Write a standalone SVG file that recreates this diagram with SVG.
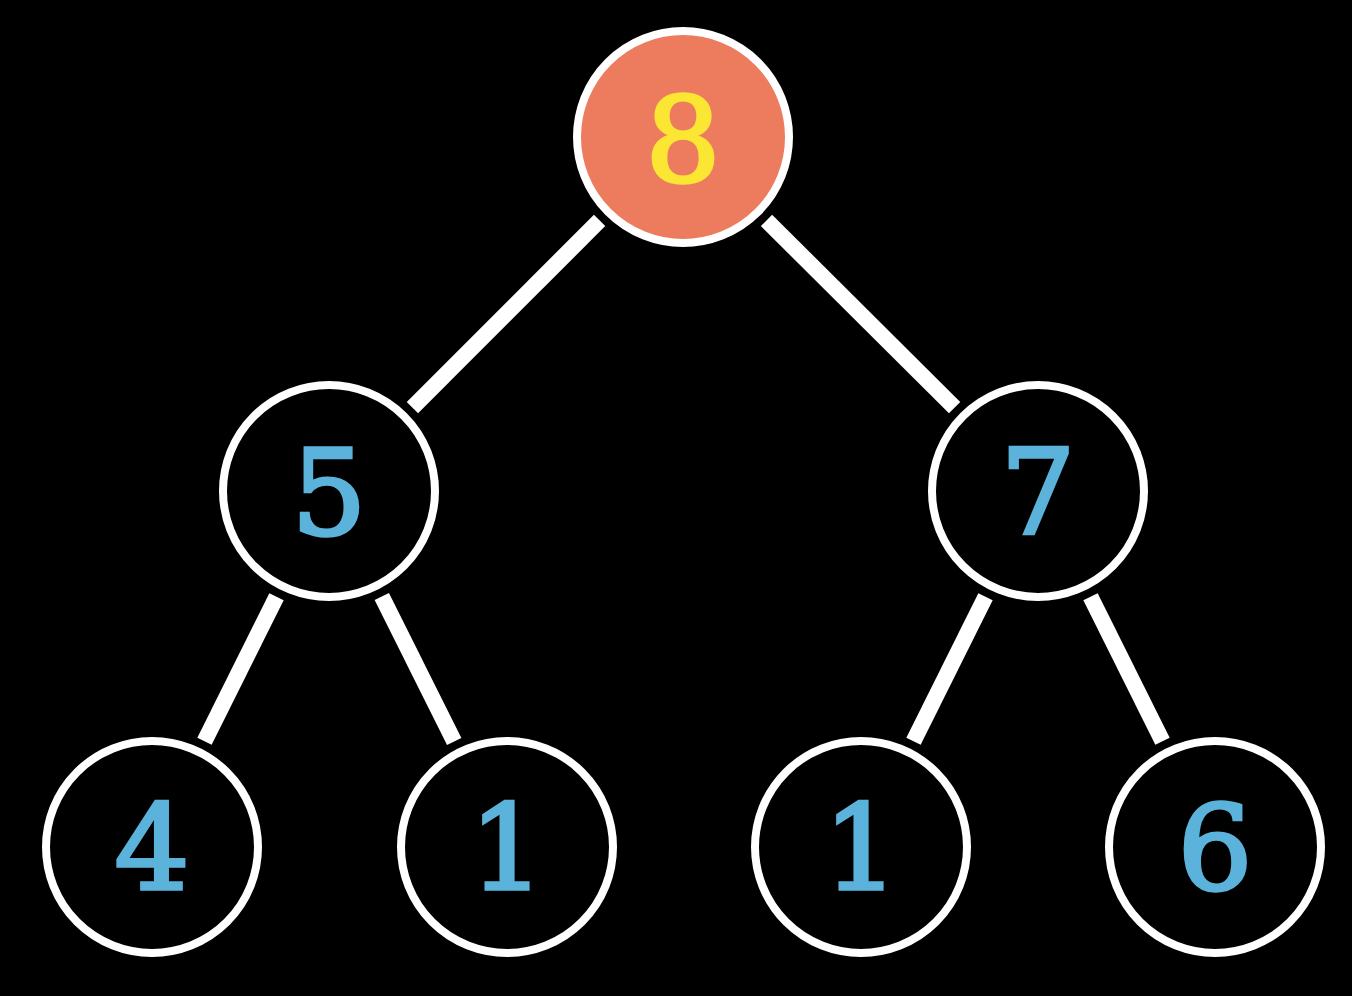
<svg xmlns="http://www.w3.org/2000/svg" width="1352" height="996" viewBox="0 0 1352 996">
<style>
.edge{stroke:#ffffff;stroke-width:16;stroke-linecap:butt;fill:none}
.node{fill:#000000;stroke:#ffffff;stroke-width:8}
.root{fill:#ED7B5E;stroke:#ffffff;stroke-width:8}
.lbl{font-family:"DejaVu Serif","Liberation Serif",serif;font-size:118px;text-anchor:middle;fill:#5BB2DA;stroke:#5BB2DA;stroke-width:3.5;font-weight:normal}
.rlbl{fill:#FBE633;stroke:#FBE633}
</style>
<rect width="1352" height="996" fill="#000000"/>
<g id="connectors">
<line class="edge" x1="599.6" y1="220.4" x2="412.4" y2="407.6"/>
<line class="edge" x1="766.5" y1="220.4" x2="954.6" y2="407.6"/>
<line class="edge" x1="276.5" y1="596.7" x2="204.5" y2="741.3"/>
<line class="edge" x1="381.8" y1="596.5" x2="454.2" y2="741.5"/>
<line class="edge" x1="985.5" y1="596.7" x2="913.5" y2="741.3"/>
<line class="edge" x1="1090.5" y1="596.7" x2="1162.5" y2="741.3"/>
</g>
<g id="node-8"><circle class="root" cx="683" cy="137" r="106"/><text class="lbl rlbl" x="683" y="181">8</text></g>
<g id="node-5"><circle class="node" cx="329" cy="491" r="106"/><text class="lbl" x="329" y="534">5</text></g>
<g id="node-7"><circle class="node" cx="1038" cy="491" r="106"/><text class="lbl" x="1038" y="534">7</text></g>
<g id="node-4"><circle class="node" cx="152" cy="847" r="106"/><text class="lbl" x="152" y="889">4</text></g>
<g id="node-1a"><circle class="node" cx="507" cy="847" r="106"/><text class="lbl" x="507" y="889">1</text></g>
<g id="node-1b"><circle class="node" cx="861" cy="847" r="106"/><text class="lbl" x="861" y="889">1</text></g>
<g id="node-6"><circle class="node" cx="1215" cy="847" r="106"/><text class="lbl" x="1215" y="889">6</text></g>
</svg>
